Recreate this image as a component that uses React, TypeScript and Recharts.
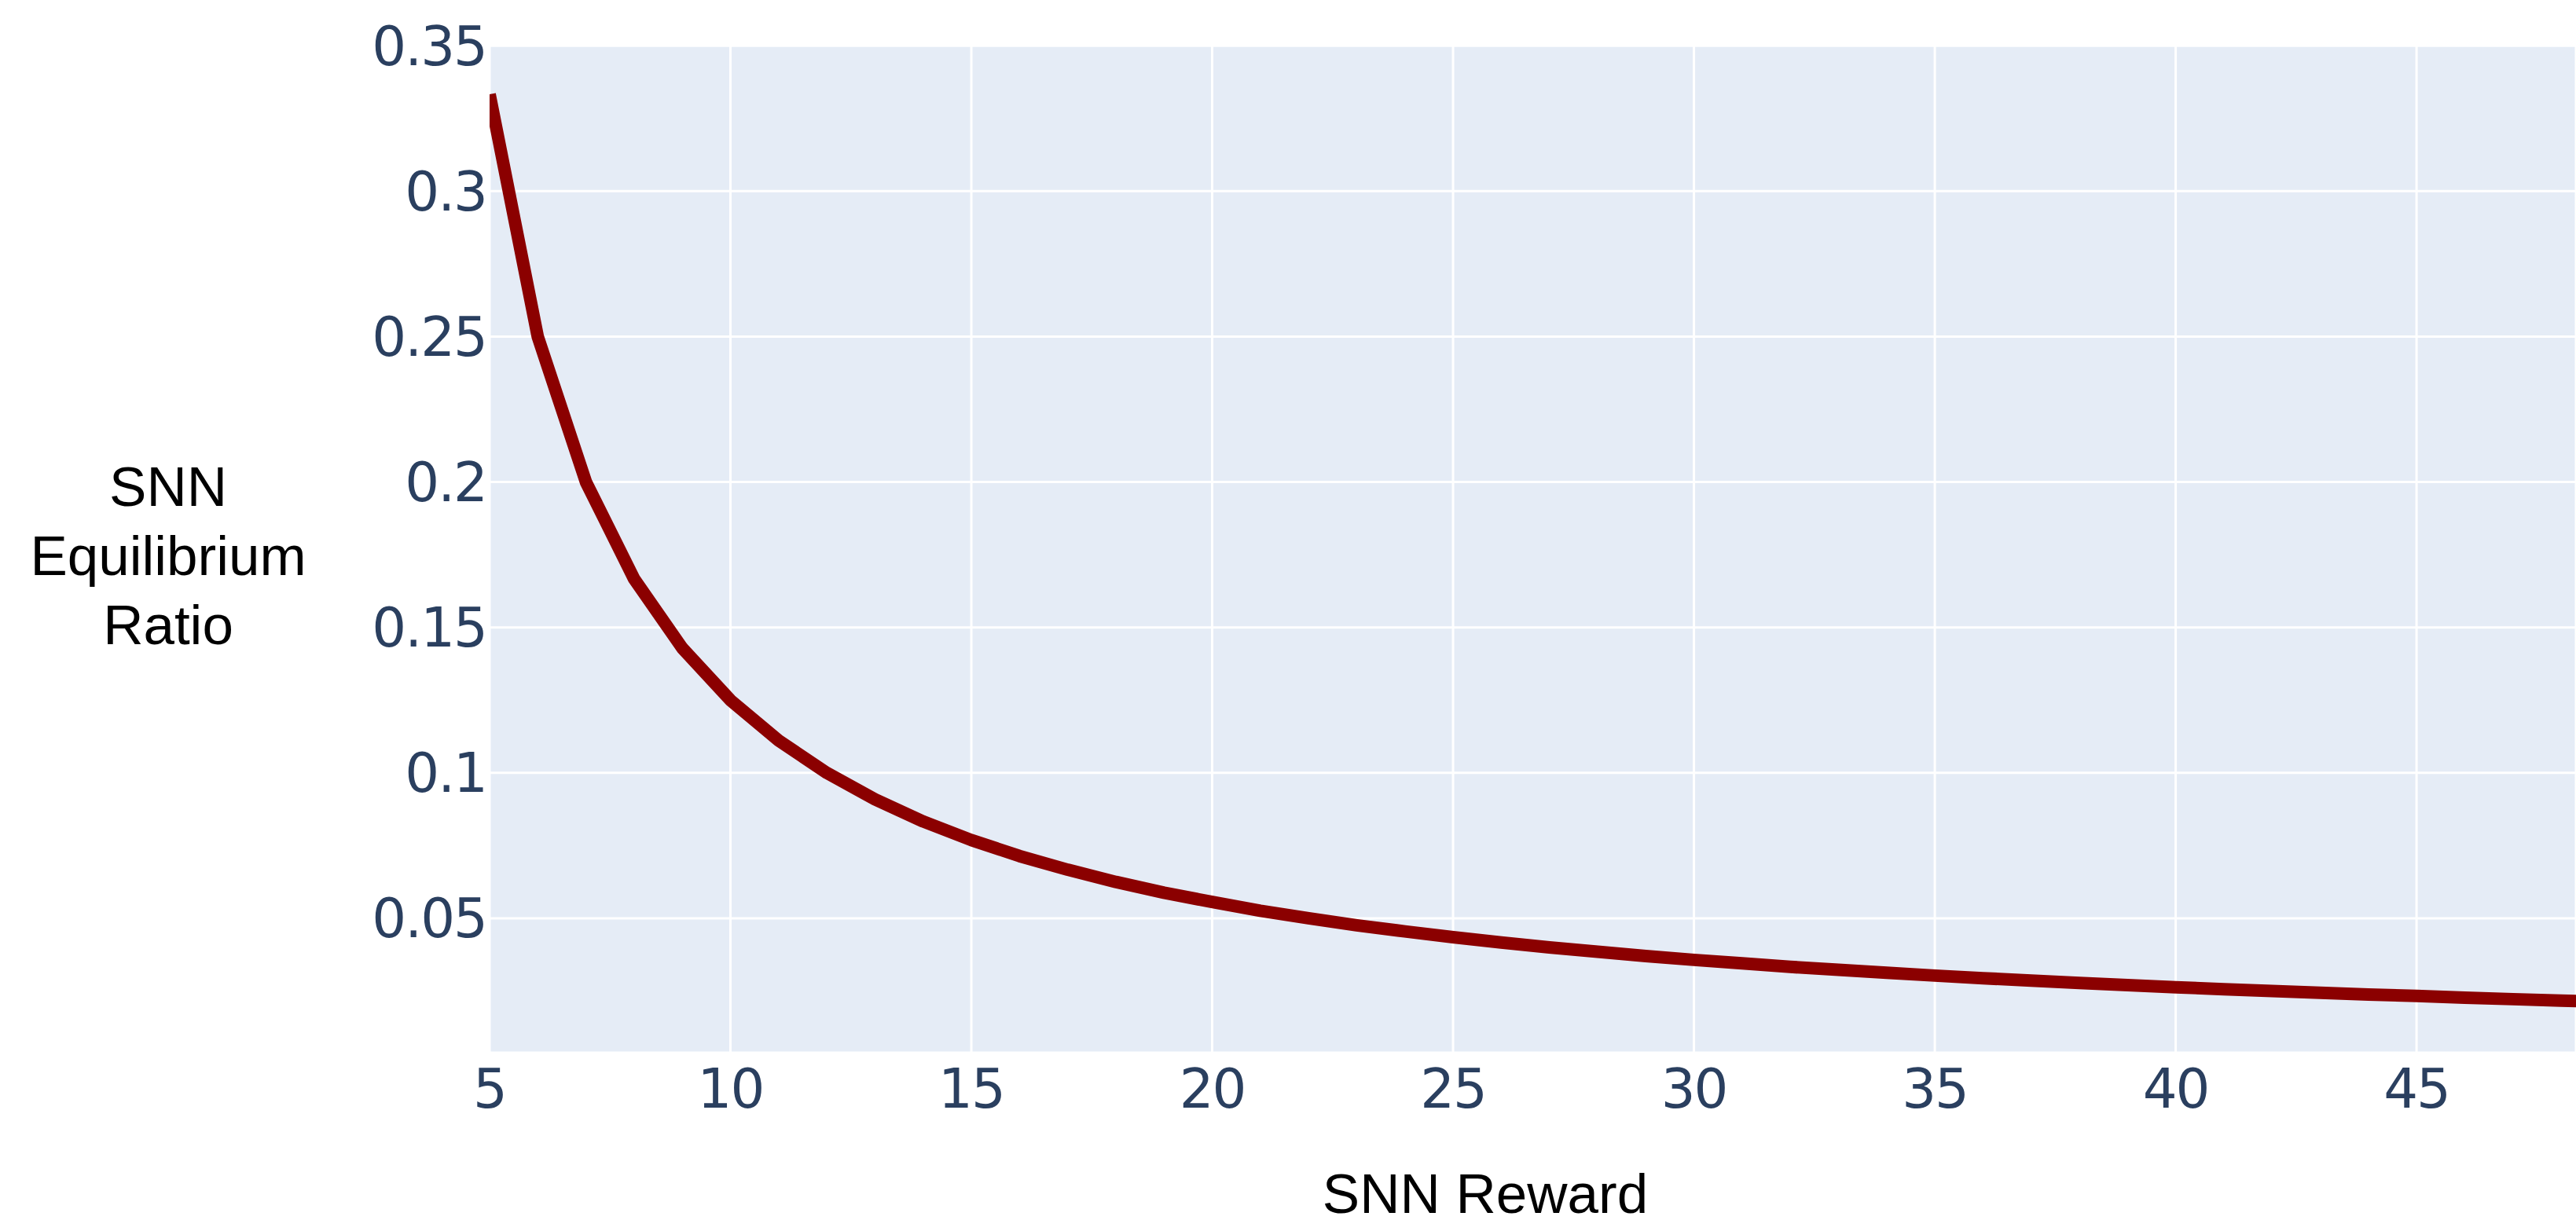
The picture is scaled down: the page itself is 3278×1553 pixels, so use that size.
import React from 'react'
import { CartesianGrid, Line, LineChart, XAxis, YAxis } from 'recharts'

// SNN reward on the x axis
const rewards = [
  5, 6, 7, 8, 9, 10, 11, 12, 13, 14, 15, 16, 17, 18, 19, 20, 21, 22, 23, 24, 25, 26, 27,
  28, 29, 30, 31, 32, 33, 34, 35, 36, 37, 38, 39, 40, 41, 42, 43, 44, 45, 46, 47, 48, 49, 50,
]

// equilibrium ratio
const ratios = [
  0.3333, 0.25, 0.2, 0.1667, 0.1429, 0.125, 0.1111, 0.1, 0.0909, 0.0833, 0.0769, 0.0714,
  0.0667, 0.0625, 0.0588, 0.0556, 0.0526, 0.05, 0.0476, 0.0455, 0.0435, 0.0417, 0.04, 0.0385,
  0.037, 0.0357, 0.0345, 0.0333, 0.0323, 0.0313, 0.0303, 0.0294, 0.0286, 0.0278, 0.027,
  0.0263, 0.0256, 0.025, 0.0244, 0.0238, 0.0233, 0.0227, 0.0222, 0.0217, 0.0213, 0.0208,
]

const xTicks = [5, 10, 15, 20, 25, 30, 35, 40, 45]
const yTicks = [0.05, 0.1, 0.15, 0.2, 0.25, 0.3, 0.35]
const yTitleLines = ['SNN', 'Equilibrium', 'Ratio']

const data = rewards.map((x, i) => ({ x, ratio: ratios[i] }))

const W = 3278
const H = 1553
const tickStyle = {
  fontSize: 69,
  fill: '#2a3f5f',
  fontFamily: 'DejaVu Sans, Verdana, sans-serif',
  letterSpacing: -2,
}
const titleFont = 'Liberation Sans, Arial, Helvetica, sans-serif'

const App = () => {
  return (
    <div style={{ position: 'absolute', left: 0, top: 0, width: W, height: H, background: '#fff', overflow: 'hidden' }}>
      <LineChart width={W} height={H} data={data} margin={{ top: 56, right: 0, bottom: 113, left: 523 }}>
        <CartesianGrid fill="#E5ECF6" fillOpacity={1} stroke="#ffffff" strokeWidth={3} />
        <XAxis
          dataKey="x"
          type="number"
          domain={[5, 48.31]}
          ticks={xTicks}
          allowDataOverflow
          interval={0}
          height={100}
          axisLine={false}
          tickLine={false}
          tickSize={0}
          tickMargin={21}
          tick={tickStyle}
        />
        <YAxis
          type="number"
          domain={[0.0038, 0.3506]}
          ticks={yTicks}
          allowDataOverflow
          interval={0}
          width={100}
          axisLine={false}
          tickLine={false}
          tickSize={0}
          tickMargin={4}
          tick={tickStyle}
        />
        <Line
          type="linear"
          dataKey="ratio"
          stroke="#8B0000"
          strokeWidth={16}
          strokeLinejoin="round"
          dot={false}
          activeDot={false}
          isAnimationActive={false}
        />
      </LineChart>
      <svg width={W} height={H} style={{ position: 'absolute', left: 0, top: 0, pointerEvents: 'none' }}>
        {yTitleLines.map((t, i) => (
          <text key={t} x={214} y={644 + i * 88} textAnchor="middle" fontSize={71} fontFamily={titleFont} fill="#000">
            {t}
          </text>
        ))}
        <text x={1890} y={1544} textAnchor="middle" fontSize={71} fontFamily={titleFont} fill="#000">
          SNN Reward
        </text>
      </svg>
    </div>
  )
}

export default App
